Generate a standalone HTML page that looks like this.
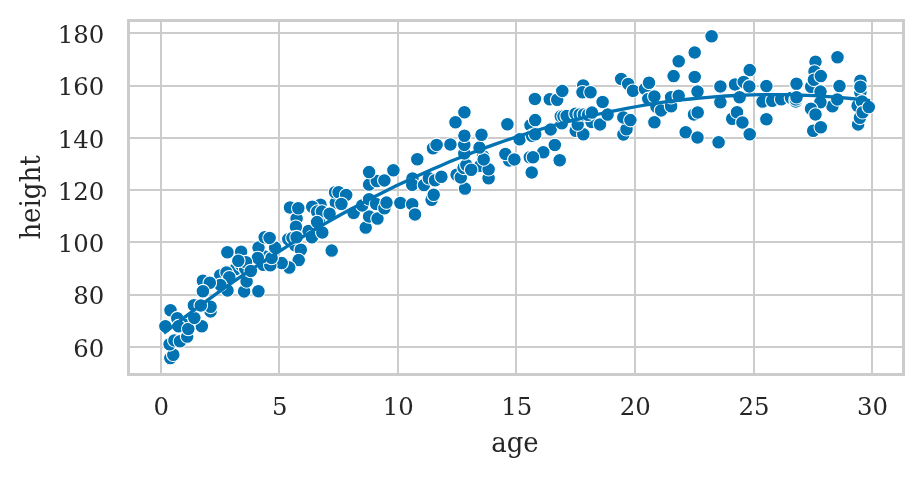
<!DOCTYPE html>
<html><head><meta charset="utf-8"><title>age vs height</title>
<style>
html,body{margin:0;padding:0;background:#fff;}
svg{display:block;}
text{font-family:"DejaVu Serif","Liberation Serif",serif;fill:#262626;}
.t{font-size:24.4px;}
.l{font-size:27.5px;}
.g{stroke:#cccccc;stroke-width:2;fill:none;}
.s{stroke:#cccccc;stroke-width:3;fill:none;stroke-linecap:square;}
.p circle{fill:#0173b2;stroke:#fff;stroke-width:1.07;}
</style></head><body>
<svg width="922" height="478" viewBox="0 0 922 478">
<rect width="922" height="478" fill="#fff"/>

<g class="g">
<line x1="161" y1="20.5" x2="161" y2="374.5"/>
<line x1="279" y1="20.5" x2="279" y2="374.5"/>
<line x1="398" y1="20.5" x2="398" y2="374.5"/>
<line x1="516" y1="20.5" x2="516" y2="374.5"/>
<line x1="635" y1="20.5" x2="635" y2="374.5"/>
<line x1="754" y1="20.5" x2="754" y2="374.5"/>
<line x1="872" y1="20.5" x2="872" y2="374.5"/>
<line x1="128.5" y1="347" x2="903.5" y2="347"/>
<line x1="128.5" y1="295" x2="903.5" y2="295"/>
<line x1="128.5" y1="242" x2="903.5" y2="242"/>
<line x1="128.5" y1="190" x2="903.5" y2="190"/>
<line x1="128.5" y1="138" x2="903.5" y2="138"/>
<line x1="128.5" y1="86" x2="903.5" y2="86"/>
<line x1="128.5" y1="33" x2="903.5" y2="33"/>
</g>
<g class="p">
<circle cx="290.0" cy="207.5" r="6.8"/>
<circle cx="369.1" cy="184.6" r="6.8"/>
<circle cx="335.8" cy="202.6" r="6.8"/>
<circle cx="811.1" cy="86.8" r="6.8"/>
<circle cx="242.3" cy="263.6" r="6.8"/>
<circle cx="863.4" cy="108.3" r="6.8"/>
<circle cx="732.2" cy="118.7" r="6.8"/>
<circle cx="581.1" cy="119.4" r="6.8"/>
<circle cx="235.5" cy="269.1" r="6.8"/>
<circle cx="220.3" cy="275.2" r="6.8"/>
<circle cx="308.5" cy="231.0" r="6.8"/>
<circle cx="311.9" cy="237.2" r="6.8"/>
<circle cx="480.2" cy="165.7" r="6.8"/>
<circle cx="509.2" cy="160.4" r="6.8"/>
<circle cx="505.4" cy="154.0" r="6.8"/>
<circle cx="170.3" cy="358.1" r="6.8"/>
<circle cx="173.3" cy="354.7" r="6.8"/>
<circle cx="169.6" cy="344.3" r="6.8"/>
<circle cx="174.4" cy="340.4" r="6.8"/>
<circle cx="180.0" cy="341.2" r="6.8"/>
<circle cx="187.2" cy="336.6" r="6.8"/>
<circle cx="201.8" cy="326.2" r="6.8"/>
<circle cx="170.5" cy="310.2" r="6.8"/>
<circle cx="165.4" cy="326.2" r="6.8"/>
<circle cx="177.3" cy="318.2" r="6.8"/>
<circle cx="188.3" cy="321.4" r="6.8"/>
<circle cx="191.5" cy="319.2" r="6.8"/>
<circle cx="184.8" cy="324.8" r="6.8"/>
<circle cx="178.6" cy="326.2" r="6.8"/>
<circle cx="188.3" cy="329.0" r="6.8"/>
<circle cx="194.3" cy="317.9" r="6.8"/>
<circle cx="210.6" cy="311.4" r="6.8"/>
<circle cx="210.6" cy="306.8" r="6.8"/>
<circle cx="193.9" cy="305.2" r="6.8"/>
<circle cx="200.8" cy="305.5" r="6.8"/>
<circle cx="258.4" cy="291.2" r="6.8"/>
<circle cx="244.1" cy="291.4" r="6.8"/>
<circle cx="246.6" cy="281.4" r="6.8"/>
<circle cx="227.5" cy="290.5" r="6.8"/>
<circle cx="226.5" cy="272.4" r="6.8"/>
<circle cx="229.3" cy="277.3" r="6.8"/>
<circle cx="220.3" cy="284.9" r="6.8"/>
<circle cx="202.9" cy="280.7" r="6.8"/>
<circle cx="209.8" cy="282.8" r="6.8"/>
<circle cx="202.9" cy="291.2" r="6.8"/>
<circle cx="263.3" cy="264.8" r="6.8"/>
<circle cx="241.1" cy="264.8" r="6.8"/>
<circle cx="245.3" cy="268.9" r="6.8"/>
<circle cx="331.7" cy="250.6" r="6.8"/>
<circle cx="295.3" cy="245.5" r="6.8"/>
<circle cx="300.8" cy="249.7" r="6.8"/>
<circle cx="298.7" cy="260.1" r="6.8"/>
<circle cx="289.3" cy="267.6" r="6.8"/>
<circle cx="281.7" cy="263.1" r="6.8"/>
<circle cx="270.3" cy="265.2" r="6.8"/>
<circle cx="264.7" cy="256.6" r="6.8"/>
<circle cx="271.6" cy="258.0" r="6.8"/>
<circle cx="258.5" cy="247.6" r="6.8"/>
<circle cx="275.1" cy="247.6" r="6.8"/>
<circle cx="264.7" cy="237.2" r="6.8"/>
<circle cx="269.6" cy="237.9" r="6.8"/>
<circle cx="257.8" cy="258.0" r="6.8"/>
<circle cx="241.1" cy="251.8" r="6.8"/>
<circle cx="246.0" cy="262.2" r="6.8"/>
<circle cx="238.3" cy="260.8" r="6.8"/>
<circle cx="227.4" cy="252.3" r="6.8"/>
<circle cx="296.6" cy="218.5" r="6.8"/>
<circle cx="295.9" cy="226.8" r="6.8"/>
<circle cx="318.9" cy="221.9" r="6.8"/>
<circle cx="288.3" cy="239.3" r="6.8"/>
<circle cx="292.5" cy="237.9" r="6.8"/>
<circle cx="296.6" cy="237.2" r="6.8"/>
<circle cx="353.6" cy="213.0" r="6.8"/>
<circle cx="365.7" cy="227.6" r="6.8"/>
<circle cx="369.1" cy="216.5" r="6.8"/>
<circle cx="377.5" cy="218.6" r="6.8"/>
<circle cx="362.2" cy="205.4" r="6.8"/>
<circle cx="369.1" cy="199.2" r="6.8"/>
<circle cx="376.1" cy="204.0" r="6.8"/>
<circle cx="384.4" cy="208.2" r="6.8"/>
<circle cx="386.5" cy="202.6" r="6.8"/>
<circle cx="400.4" cy="203.0" r="6.8"/>
<circle cx="412.2" cy="204.3" r="6.8"/>
<circle cx="415.0" cy="214.4" r="6.8"/>
<circle cx="376.8" cy="181.1" r="6.8"/>
<circle cx="384.4" cy="180.4" r="6.8"/>
<circle cx="369.1" cy="172.1" r="6.8"/>
<circle cx="393.4" cy="170.3" r="6.8"/>
<circle cx="335.1" cy="192.2" r="6.8"/>
<circle cx="338.6" cy="192.2" r="6.8"/>
<circle cx="346.2" cy="195.0" r="6.8"/>
<circle cx="341.4" cy="204.0" r="6.8"/>
<circle cx="320.5" cy="204.7" r="6.8"/>
<circle cx="312.2" cy="206.8" r="6.8"/>
<circle cx="317.1" cy="211.6" r="6.8"/>
<circle cx="321.9" cy="211.6" r="6.8"/>
<circle cx="329.6" cy="213.7" r="6.8"/>
<circle cx="317.1" cy="222.1" r="6.8"/>
<circle cx="298.3" cy="208.2" r="6.8"/>
<circle cx="417.3" cy="159.2" r="6.8"/>
<circle cx="412.5" cy="178.5" r="6.8"/>
<circle cx="412.2" cy="184.8" r="6.8"/>
<circle cx="424.0" cy="185.1" r="6.8"/>
<circle cx="428.9" cy="178.2" r="6.8"/>
<circle cx="435.1" cy="180.3" r="6.8"/>
<circle cx="441.4" cy="176.8" r="6.8"/>
<circle cx="431.6" cy="199.7" r="6.8"/>
<circle cx="433.7" cy="194.8" r="6.8"/>
<circle cx="465.0" cy="188.6" r="6.8"/>
<circle cx="456.6" cy="174.7" r="6.8"/>
<circle cx="460.8" cy="177.5" r="6.8"/>
<circle cx="463.6" cy="167.8" r="6.8"/>
<circle cx="466.4" cy="165.0" r="6.8"/>
<circle cx="471.2" cy="169.8" r="6.8"/>
<circle cx="488.6" cy="178.2" r="6.8"/>
<circle cx="488.6" cy="169.2" r="6.8"/>
<circle cx="483.0" cy="156.0" r="6.8"/>
<circle cx="483.7" cy="159.4" r="6.8"/>
<circle cx="464.3" cy="153.5" r="6.8"/>
<circle cx="479.5" cy="147.6" r="6.8"/>
<circle cx="464.3" cy="144.9" r="6.8"/>
<circle cx="450.4" cy="144.5" r="6.8"/>
<circle cx="433.0" cy="148.3" r="6.8"/>
<circle cx="436.6" cy="144.9" r="6.8"/>
<circle cx="464.4" cy="112.2" r="6.8"/>
<circle cx="455.5" cy="122.2" r="6.8"/>
<circle cx="507.4" cy="124.3" r="6.8"/>
<circle cx="464.4" cy="135.8" r="6.8"/>
<circle cx="481.5" cy="134.7" r="6.8"/>
<circle cx="519.6" cy="139.3" r="6.8"/>
<circle cx="534.9" cy="99.0" r="6.8"/>
<circle cx="530.5" cy="125.3" r="6.8"/>
<circle cx="535.2" cy="120.1" r="6.8"/>
<circle cx="532.0" cy="135.7" r="6.8"/>
<circle cx="535.2" cy="134.3" r="6.8"/>
<circle cx="550.7" cy="129.4" r="6.8"/>
<circle cx="561.8" cy="123.2" r="6.8"/>
<circle cx="554.8" cy="145.0" r="6.8"/>
<circle cx="543.3" cy="152.3" r="6.8"/>
<circle cx="529.8" cy="157.2" r="6.8"/>
<circle cx="533.0" cy="157.2" r="6.8"/>
<circle cx="559.7" cy="160.3" r="6.8"/>
<circle cx="531.7" cy="172.5" r="6.8"/>
<circle cx="575.7" cy="130.8" r="6.8"/>
<circle cx="583.3" cy="134.3" r="6.8"/>
<circle cx="577.7" cy="124.6" r="6.8"/>
<circle cx="591.6" cy="122.0" r="6.8"/>
<circle cx="600.0" cy="124.4" r="6.8"/>
<circle cx="623.4" cy="134.5" r="6.8"/>
<circle cx="626.5" cy="129.2" r="6.8"/>
<circle cx="623.3" cy="117.4" r="6.8"/>
<circle cx="630.4" cy="120.1" r="6.8"/>
<circle cx="607.6" cy="114.6" r="6.8"/>
<circle cx="549.8" cy="99.2" r="6.8"/>
<circle cx="557.2" cy="99.7" r="6.8"/>
<circle cx="562.3" cy="90.9" r="6.8"/>
<circle cx="583.2" cy="85.4" r="6.8"/>
<circle cx="582.5" cy="92.3" r="6.8"/>
<circle cx="590.5" cy="92.3" r="6.8"/>
<circle cx="602.6" cy="102.0" r="6.8"/>
<circle cx="621.2" cy="79.0" r="6.8"/>
<circle cx="628.2" cy="83.9" r="6.8"/>
<circle cx="633.0" cy="90.8" r="6.8"/>
<circle cx="645.0" cy="88.9" r="6.8"/>
<circle cx="649.0" cy="82.8" r="6.8"/>
<circle cx="648.3" cy="98.9" r="6.8"/>
<circle cx="560.8" cy="116.3" r="6.8"/>
<circle cx="563.5" cy="116.3" r="6.8"/>
<circle cx="566.7" cy="116.0" r="6.8"/>
<circle cx="575.5" cy="113.8" r="6.8"/>
<circle cx="579.7" cy="114.5" r="6.8"/>
<circle cx="583.9" cy="114.5" r="6.8"/>
<circle cx="588.0" cy="114.8" r="6.8"/>
<circle cx="654.4" cy="122.2" r="6.8"/>
<circle cx="685.7" cy="132.3" r="6.8"/>
<circle cx="697.5" cy="137.5" r="6.8"/>
<circle cx="718.6" cy="142.3" r="6.8"/>
<circle cx="694.0" cy="114.5" r="6.8"/>
<circle cx="697.7" cy="112.5" r="6.8"/>
<circle cx="656.5" cy="106.9" r="6.8"/>
<circle cx="661.1" cy="110.4" r="6.8"/>
<circle cx="671.1" cy="106.2" r="6.8"/>
<circle cx="654.4" cy="96.5" r="6.8"/>
<circle cx="671.1" cy="97.2" r="6.8"/>
<circle cx="678.7" cy="95.8" r="6.8"/>
<circle cx="697.5" cy="91.5" r="6.8"/>
<circle cx="720.4" cy="102.3" r="6.8"/>
<circle cx="720.4" cy="86.5" r="6.8"/>
<circle cx="735.0" cy="84.5" r="6.8"/>
<circle cx="737.0" cy="112.3" r="6.8"/>
<circle cx="711.6" cy="36.2" r="6.8"/>
<circle cx="694.7" cy="52.5" r="6.8"/>
<circle cx="678.7" cy="61.2" r="6.8"/>
<circle cx="673.6" cy="76.1" r="6.8"/>
<circle cx="694.7" cy="77.0" r="6.8"/>
<circle cx="749.7" cy="70.1" r="6.8"/>
<circle cx="743.7" cy="81.9" r="6.8"/>
<circle cx="749.3" cy="86.4" r="6.8"/>
<circle cx="739.6" cy="97.2" r="6.8"/>
<circle cx="766.4" cy="86.1" r="6.8"/>
<circle cx="762.5" cy="101.6" r="6.8"/>
<circle cx="772.2" cy="100.7" r="6.8"/>
<circle cx="781.2" cy="99.3" r="6.8"/>
<circle cx="796.5" cy="83.7" r="6.8"/>
<circle cx="791.0" cy="97.9" r="6.8"/>
<circle cx="795.8" cy="101.5" r="6.8"/>
<circle cx="795.8" cy="99.5" r="6.8"/>
<circle cx="796.5" cy="97.2" r="6.8"/>
<circle cx="837.5" cy="57.2" r="6.8"/>
<circle cx="815.5" cy="61.8" r="6.8"/>
<circle cx="814.5" cy="71.5" r="6.8"/>
<circle cx="813.9" cy="79.8" r="6.8"/>
<circle cx="820.8" cy="76.1" r="6.8"/>
<circle cx="820.5" cy="91.6" r="6.8"/>
<circle cx="839.5" cy="86.1" r="6.8"/>
<circle cx="832.4" cy="106.2" r="6.8"/>
<circle cx="837.3" cy="99.4" r="6.8"/>
<circle cx="820.4" cy="102.2" r="6.8"/>
<circle cx="811.0" cy="108.8" r="6.8"/>
<circle cx="815.5" cy="114.5" r="6.8"/>
<circle cx="749.7" cy="134.2" r="6.8"/>
<circle cx="742.4" cy="122.4" r="6.8"/>
<circle cx="766.4" cy="119.3" r="6.8"/>
<circle cx="813.2" cy="130.7" r="6.8"/>
<circle cx="820.8" cy="127.2" r="6.8"/>
<circle cx="860.4" cy="80.8" r="6.8"/>
<circle cx="860.4" cy="92.5" r="6.8"/>
<circle cx="860.4" cy="86.8" r="6.8"/>
<circle cx="857.6" cy="105.7" r="6.8"/>
<circle cx="862.0" cy="101.4" r="6.8"/>
<circle cx="858.1" cy="124.4" r="6.8"/>
<circle cx="859.9" cy="117.8" r="6.8"/>
<circle cx="862.7" cy="112.2" r="6.8"/>
<circle cx="868.8" cy="107.1" r="6.8"/>
<circle cx="322.3" cy="232.5" r="6.8"/>
<circle cx="250.8" cy="271.0" r="6.8"/>
<circle cx="514.4" cy="159.4" r="6.8"/>
<circle cx="592.0" cy="112.6" r="6.8"/>
</g>
<path d="M165.2,332.1 L174.1,325.2 L183.0,318.4 L191.9,311.7 L200.8,305.1 L209.7,298.6 L218.6,292.2 L227.5,285.9 L236.4,279.7 L245.3,273.6 L254.2,267.6 L263.1,261.7 L272.0,256.0 L280.9,250.3 L289.8,244.7 L298.8,239.2 L307.7,233.8 L316.6,228.5 L325.5,223.4 L334.4,218.3 L343.3,213.3 L352.2,208.5 L361.1,203.7 L370.0,199.0 L378.9,194.5 L387.8,190.0 L396.7,185.6 L405.6,181.4 L414.5,177.2 L423.4,173.2 L432.3,169.2 L441.2,165.4 L450.1,161.6 L459.0,158.0 L467.9,154.4 L476.8,151.0 L485.7,147.6 L494.6,144.4 L503.5,141.3 L512.4,138.2 L521.3,135.3 L530.2,132.5 L539.1,129.7 L548.0,127.1 L556.9,124.6 L565.8,122.2 L574.7,119.8 L583.6,117.6 L592.5,115.5 L601.4,113.5 L610.3,111.6 L619.2,109.8 L628.1,108.1 L637.0,106.5 L645.9,104.9 L654.8,103.5 L663.7,102.2 L672.6,101.0 L681.5,99.9 L690.4,99.0 L699.3,98.1 L708.2,97.3 L717.1,96.6 L726.0,96.0 L734.9,95.5 L743.8,95.1 L752.7,94.8 L761.6,94.7 L770.5,94.6 L779.4,94.6 L788.3,94.7 L797.2,95.0 L806.1,95.3 L815.0,95.7 L823.9,96.3 L832.8,96.9 L841.7,97.6 L850.6,98.5 L859.5,99.4 L868.4,100.5" fill="none" stroke="#0173b2" stroke-width="3.3" stroke-linecap="square" stroke-linejoin="round"/>
<rect class="s" x="128.5" y="20.5" width="775.00" height="354.00"/>
<text class="t" x="161.30" y="414.7" text-anchor="middle">0</text>
<text class="t" x="279.82" y="414.7" text-anchor="middle">5</text>
<text class="t" x="398.34" y="414.7" text-anchor="middle">10</text>
<text class="t" x="516.86" y="414.7" text-anchor="middle">15</text>
<text class="t" x="635.38" y="414.7" text-anchor="middle">20</text>
<text class="t" x="753.90" y="414.7" text-anchor="middle">25</text>
<text class="t" x="872.42" y="414.7" text-anchor="middle">30</text>
<text class="t" x="104.4" y="356.75" text-anchor="end">60</text>
<text class="t" x="104.4" y="304.45" text-anchor="end">80</text>
<text class="t" x="104.4" y="252.15" text-anchor="end">100</text>
<text class="t" x="104.4" y="199.85" text-anchor="end">120</text>
<text class="t" x="104.4" y="147.55" text-anchor="end">140</text>
<text class="t" x="104.4" y="95.25" text-anchor="end">160</text>
<text class="t" x="104.4" y="42.95" text-anchor="end">180</text>
<text class="l" transform="translate(515.00,451.9) scale(0.945,1)" text-anchor="middle">age</text>
<text class="l" transform="translate(39.8,197.50) rotate(-90) scale(0.945,1)" text-anchor="middle">height</text>
</svg></body></html>
